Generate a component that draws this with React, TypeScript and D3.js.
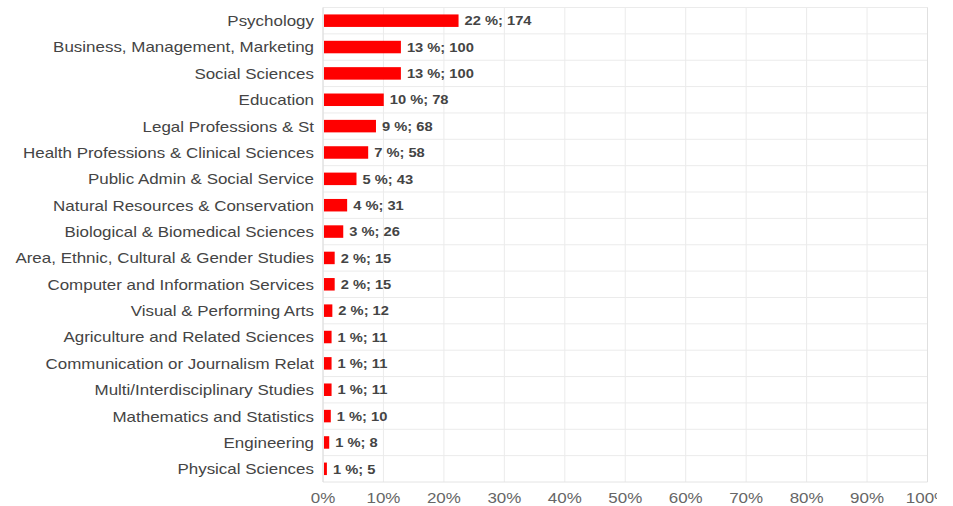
import React from "react";
import * as d3 from "d3";

const categories = [
  "Psychology",
  "Business, Management, Marketing",
  "Social Sciences",
  "Education",
  "Legal Professions & St",
  "Health Professions & Clinical Sciences",
  "Public Admin & Social Service",
  "Natural Resources & Conservation",
  "Biological & Biomedical Sciences",
  "Area, Ethnic, Cultural & Gender Studies",
  "Computer and Information Services",
  "Visual & Performing Arts",
  "Agriculture and Related Sciences",
  "Communication or Journalism Relat",
  "Multi/Interdisciplinary Studies",
  "Mathematics and Statistics",
  "Engineering",
  "Physical Sciences",
];
const counts = [174, 100, 100, 78, 68, 58, 43, 31, 26, 15, 15, 12, 11, 11, 11, 10, 8, 5];
const percentLabels = [22, 13, 13, 10, 9, 7, 5, 4, 3, 2, 2, 2, 1, 1, 1, 1, 1, 1];
const xTicks = [0, 10, 20, 30, 40, 50, 60, 70, 80, 90, 100];

const W = 953;
const H = 506;
const left = 323;
const right = 927.5;
const top = 7.5;
const bottom = 482;
const SX = 1.13;

export default function App() {
  const total = d3.sum(counts);
  const x = d3.scaleLinear().domain([0, 100]).range([left, right]);
  const y = d3.scaleBand<string>().domain(categories).range([top, bottom]).paddingInner(0).paddingOuter(0);
  const bw = y.bandwidth();
  const barH = 12.5;
  const font = "Arial, 'Liberation Sans', Helvetica, sans-serif";
  return (
    <svg width={W} height={H} style={{ position: "absolute", left: 0, top: 0, background: "#fff" }}>
      <defs>
        <clipPath id="clipR">
          <rect x={0} y={0} width={937} height={H} />
        </clipPath>
      </defs>
      <rect x={0} y={0} width={W} height={H} fill="#fff" />
      {xTicks.map((t) => (
        <line key={"v" + t} x1={x(t)} x2={x(t)} y1={top} y2={bottom} stroke="#ebebeb" strokeWidth={1} />
      ))}
      {categories.map((c, i) => (
        <line key={"h" + i} x1={left} x2={right} y1={(y(c) as number)} y2={(y(c) as number)} stroke="#ebebeb" strokeWidth={1} />
      ))}
      <line x1={left} x2={right} y1={bottom} y2={bottom} stroke="#e4e4e4" />
      <line x1={right} x2={right} y1={top} y2={bottom} stroke="#e0e0e0" />
      <line x1={left} x2={left} y1={top} y2={bottom} stroke="#dcdcdc" />
      {categories.map((c, i) => {
        const cy = (y(c) as number) + bw / 2;
        const pct = (counts[i] / total) * 100;
        const x1 = x(pct);
        return (
          <g key={c}>
            <rect x={left + 1} y={cy - barH / 2} width={Math.max(0, x1 - left - 1)} height={barH} fill="#ff0000" />
            <g transform={`translate(${x1 + 6},${cy}) scale(${SX},1)`}>
              <text x={0} y={0} dy="0.36em" fontFamily={font} fontSize={13} fontWeight="bold" fill="#444">
                {`${percentLabels[i]} %; ${counts[i]}`}
              </text>
            </g>
            <g transform={`translate(${left - 9},${cy}) scale(${SX},1)`}>
              <text x={0} y={0} dy="0.36em" textAnchor="end" fontFamily={font} fontSize={15} fill="#444">
                {c}
              </text>
            </g>
          </g>
        );
      })}
      <g clipPath="url(#clipR)">
        {xTicks.map((t) => (
          <g key={"t" + t} transform={`translate(${x(t)},498) scale(${SX},1)`}>
            <text x={0} y={0} dy="0.36em" textAnchor="middle" fontFamily={font} fontSize={15} fill="#666">
              {`${t}%`}
            </text>
          </g>
        ))}
      </g>
    </svg>
  );
}
